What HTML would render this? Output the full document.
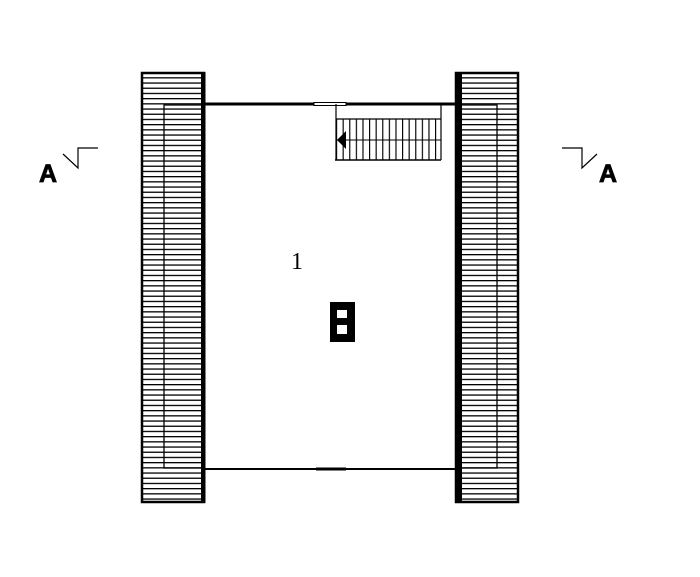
<!DOCTYPE html>
<html><head><style>body{margin:0;background:#fff}</style></head><body>
<svg width="700" height="572" xmlns="http://www.w3.org/2000/svg">
<defs>
<pattern id="h" width="10" height="5.2" patternUnits="userSpaceOnUse" y="72">
<line x1="0" y1="0.6" x2="10" y2="0.6" stroke="#000" stroke-width="1.4"/>
</pattern>
<pattern id="v" width="6.6" height="10" patternUnits="userSpaceOnUse" x="336">
<line x1="0.5" y1="0" x2="0.5" y2="10" stroke="#000" stroke-width="1.3"/>
</pattern>
</defs>
<rect width="700" height="572" fill="#fff"/>
<rect x="142" y="73" width="62" height="429" fill="url(#h)" stroke="#000" stroke-width="2.5"/>
<rect x="201" y="72" width="4.5" height="431" fill="#000"/>
<polyline points="204,105 164,105 164,468 204,468" fill="none" stroke="#000" stroke-width="1.3"/>
<rect x="456" y="73" width="62" height="429" fill="url(#h)" stroke="#000" stroke-width="2.5"/>
<rect x="455" y="72" width="7" height="431" fill="#000"/>
<polyline points="458,105 497,105 497,468 458,468" fill="none" stroke="#000" stroke-width="1.3"/>
<line x1="205" y1="104" x2="455" y2="104" stroke="#000" stroke-width="3"/>
<line x1="205" y1="469" x2="455" y2="469" stroke="#000" stroke-width="2"/>
<rect x="314" y="102.5" width="32" height="3" fill="#fff" stroke="#000" stroke-width="1"/>
<line x1="316" y1="469" x2="346" y2="469" stroke="#000" stroke-width="3"/>
<line x1="336" y1="104" x2="336" y2="160" stroke="#000" stroke-width="1.2"/>
<line x1="441" y1="104" x2="441" y2="160" stroke="#000" stroke-width="1.2"/>
<rect x="336" y="119" width="105" height="41" fill="url(#v)"/>
<line x1="336" y1="119" x2="441" y2="119" stroke="#000" stroke-width="1.2"/>
<line x1="335" y1="160" x2="441" y2="160" stroke="#000" stroke-width="1.5"/>
<line x1="336" y1="140" x2="441" y2="140" stroke="#000" stroke-width="1"/>
<polygon points="337,140 346,131 346,149" fill="#000"/>
<text x="291" y="269" font-family="Liberation Serif, serif" font-size="24">1</text>
<rect x="330" y="302" width="25" height="40" fill="#000"/>
<rect x="337" y="310" width="10" height="8" fill="#fff"/>
<rect x="337" y="325" width="10" height="9" fill="#fff"/>
<polyline points="63,154 78,168 78,148 98,148" fill="none" stroke="#000" stroke-width="1.2"/>
<text x="39" y="182" font-family="Liberation Sans, sans-serif" font-weight="bold" font-size="25" stroke="#000" stroke-width="0.8">A</text>
<polyline points="562,148 582,148 582,168 597,154" fill="none" stroke="#000" stroke-width="1.2"/>
<text x="599" y="182" font-family="Liberation Sans, sans-serif" font-weight="bold" font-size="25" stroke="#000" stroke-width="0.8">A</text>
</svg>
</body></html>
